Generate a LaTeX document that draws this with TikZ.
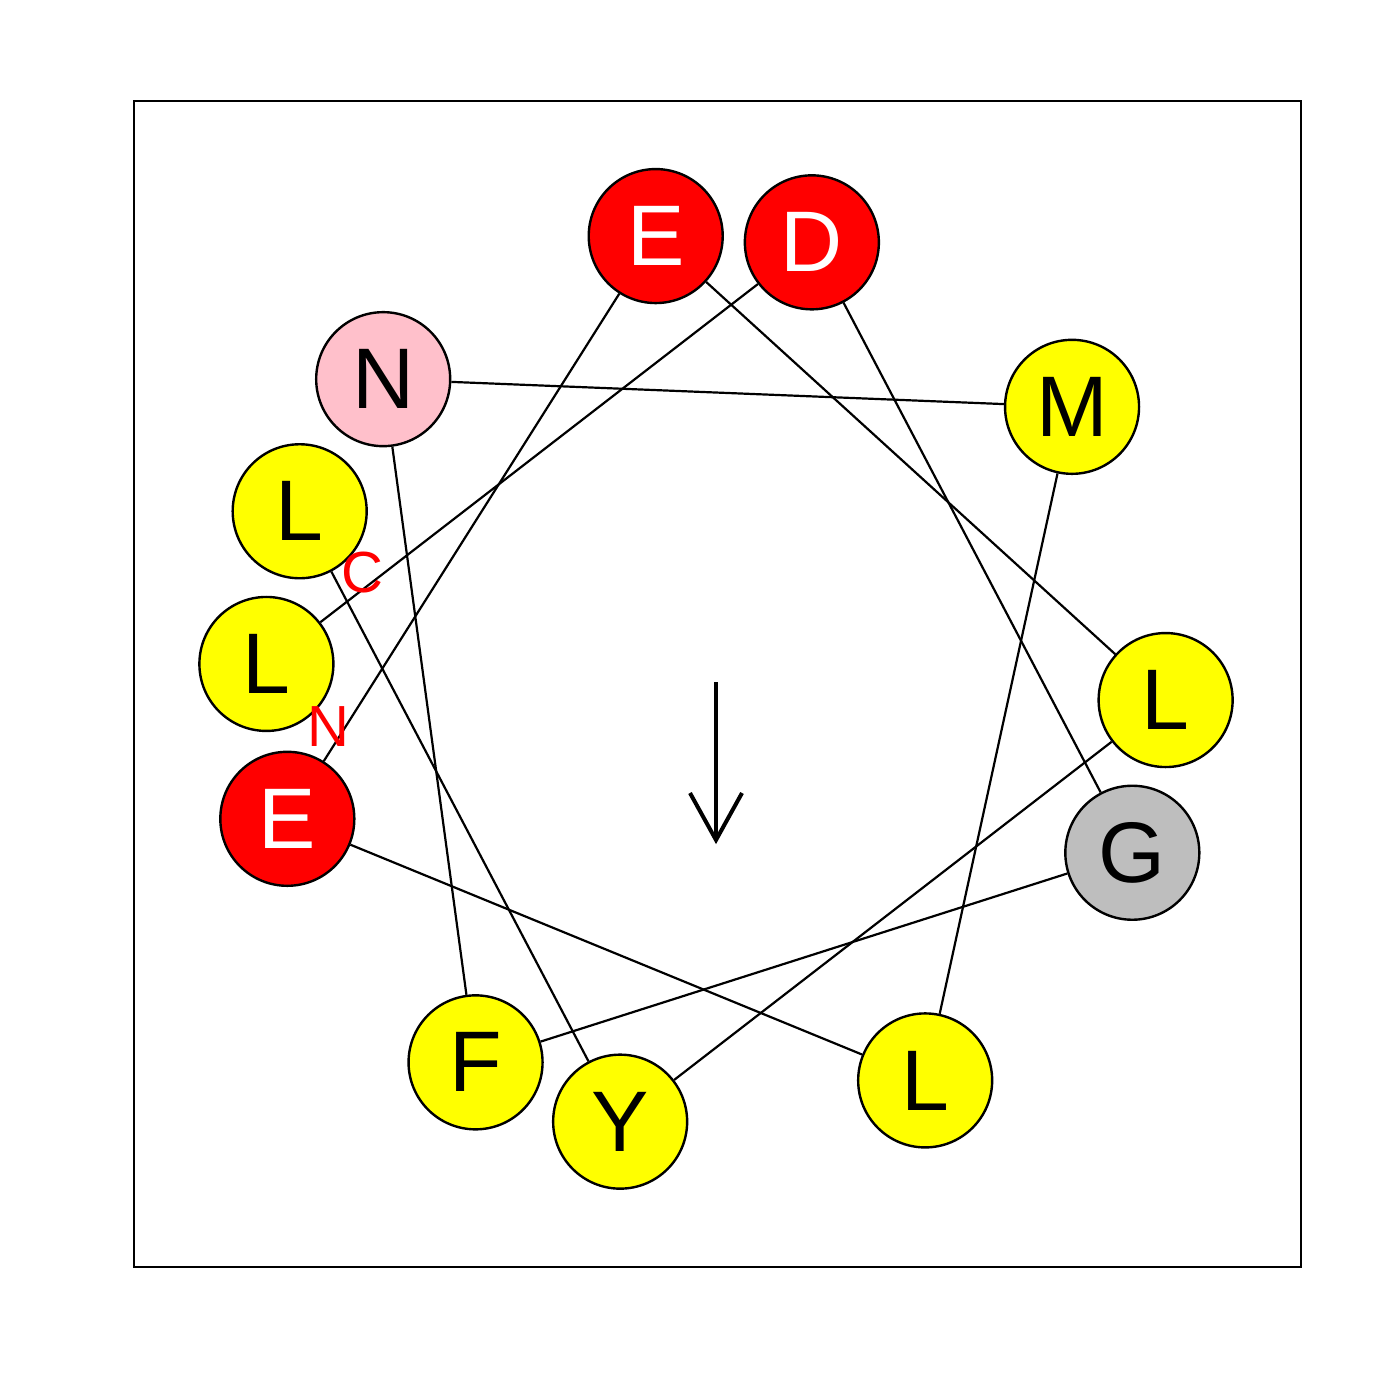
\documentclass[tikz,border=0pt]{standalone}
\usepackage{fontspec}
\setmainfont{Liberation Sans}
\usetikzlibrary{calc}
\definecolor{respink}{RGB}{255,192,203}
\definecolor{resgray}{RGB}{190,190,190}
\definecolor{resyellow}{RGB}{255,255,0}
\definecolor{resred}{RGB}{255,0,0}
\begin{document}
\begin{tikzpicture}[x=0.5pt,y=-0.5pt,
  res/.style={circle,draw=black,line width=1.2pt,minimum size=67pt,inner sep=0pt,
    font=\fontsize{43}{43}\selectfont},
  redres/.style={res,fill=resred,text=white},
  yelres/.style={res,fill=resyellow,text=black},
  pinkres/.style={res,fill=respink,text=black},
  grayres/.style={res,fill=resgray,text=black},
  link/.style={draw=black,line width=1.1pt},
  endlabel/.style={text=resred,inner sep=0pt,font=\fontsize{29}{29}\selectfont},
  moment/.style={draw=black,line width=2pt}]
\useasboundingbox (0,0) rectangle (1400,1400);
\node[draw=black,line width=1pt,inner sep=0pt,minimum width=583.5pt,minimum height=583pt,anchor=north west] (frame) at (133,100) {};
\coordinate (c) at (716,682);
\node[yelres]  (r1)  at ($(c)+(-157.7:450)$) {L};
\node[yelres]  (r2)  at ($(c)+(-257.7:450)$) {Y};
\node[yelres]  (r3)  at ($(c)+(-357.7:450)$) {L};
\node[redres]  (r4)  at ($(c)+(-97.7:450)$)  {E};
\node[redres]  (r5)  at ($(c)+(-197.7:450)$) {E};
\node[yelres]  (r6)  at ($(c)+(-297.7:450)$) {L};
\node[yelres]  (r7)  at ($(c)+(-37.7:450)$)  {M};
\node[pinkres] (r8)  at ($(c)+(-137.7:450)$) {N};
\node[yelres]  (r9)  at ($(c)+(-237.7:450)$) {F};
\node[grayres] (r10) at ($(c)+(-337.7:450)$) {G};
\node[redres]  (r11) at ($(c)+(-77.7:450)$)  {D};
\node[yelres]  (r12) at ($(c)+(-177.7:450)$) {L};
\foreach \a/\b in {r1/r2,r2/r3,r3/r4,r4/r5,r5/r6,r6/r7,r7/r8,r8/r9,r9/r10,r10/r11,r11/r12}
  \draw[link] (\a) -- (\b);
\node[endlabel] (lblN) at (328,727) {N};
\node[endlabel] (lblC) at (362,573) {C};
\coordinate (a0) at (716,682);
\coordinate (a1) at (716,840);
\coordinate (h1) at (690,793);
\coordinate (h2) at (742,793);
\draw[moment] (a0) -- (a1);
\draw[moment,line join=miter] (h1) -- (a1) -- (h2);
\end{tikzpicture}
\end{document}
